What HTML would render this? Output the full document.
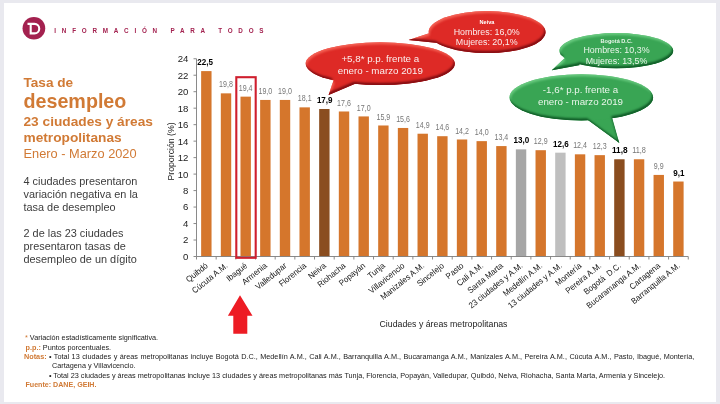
<!DOCTYPE html>
<html lang="es"><head><meta charset="utf-8"><title>Tasa de desempleo</title>
<style>
html,body{margin:0;padding:0;}
body{width:720px;height:404px;overflow:hidden;background:#e9e9ef;font-family:"Liberation Sans",sans-serif;position:relative;}
#slide{position:absolute;left:4px;top:3px;width:712px;height:399px;background:#fff;}
svg{position:absolute;left:0;top:0;}
svg text{font-family:"Liberation Sans",sans-serif;}
.yl{font-size:9.6px;fill:#1c1c1c;}
.vl{font-size:8.3px;fill:#767676;}
.vb{font-size:9px;fill:#000;font-weight:bold;}
.xl{font-size:8.4px;fill:#141414;white-space:pre;}
.at{font-size:9.5px;fill:#1c1c1c;}
.bt{font-size:9.75px;fill:#fbeeee;}
.bs{font-size:8.9px;fill:#fbeeee;}
svg text.g{fill:#e9f6ea;}
.bh{font-size:5.6px;fill:#fff;font-weight:bold;}
.t{position:absolute;white-space:nowrap;}
.or{color:#d17a35;}
.hd{left:54.3px;top:27.1px;font-size:6.3px;font-weight:bold;color:#a3214f;letter-spacing:5.77px;line-height:8px;}
.ti{left:23.5px;font-weight:bold;}
.bd{left:23.5px;font-size:10.9px;color:#3c3c3c;line-height:13px;}
.nt{font-size:7.28px;color:#1a1a1a;line-height:9.2px;}
.ju{width:645.5px;text-align:justify;text-align-last:justify;white-space:normal;}
.nt b{color:#d17a35;}
</style></head><body>
<div id="slide"></div>
<svg width="720" height="404" viewBox="0 0 720 404">
<defs>
<radialGradient id="gr" cx="50%" cy="40%" r="65%"><stop offset="0" stop-color="#e2332b"/><stop offset="0.7" stop-color="#d62a25"/><stop offset="1" stop-color="#b51e1c"/></radialGradient>
<radialGradient id="gg" cx="50%" cy="40%" r="65%"><stop offset="0" stop-color="#3fae5a"/><stop offset="0.7" stop-color="#2f9e4b"/><stop offset="1" stop-color="#1f7f38"/></radialGradient>
<filter id="bvr" x="-5%" y="-8%" width="110%" height="116%" color-interpolation-filters="sRGB"><feGaussianBlur in="SourceAlpha" stdDeviation="1.3" result="b"/><feOffset in="b" dx="-1.2" dy="-1.6" result="o1"/><feComposite in="SourceAlpha" in2="o1" operator="arithmetic" k2="1.25" k3="-1.25" result="ed"/><feFlood flood-color="#8a1014" result="fd"/><feComposite in="fd" in2="ed" operator="in" result="sd"/><feOffset in="b" dx="1.2" dy="1.6" result="o2"/><feComposite in="SourceAlpha" in2="o2" operator="arithmetic" k2="0.9" k3="-0.9" result="el"/><feFlood flood-color="#f7685a" result="fl"/><feComposite in="fl" in2="el" operator="in" result="sl"/><feGaussianBlur in="SourceAlpha" stdDeviation="0.5" result="b2"/><feComposite in="SourceAlpha" in2="b2" operator="arithmetic" k2="1.3" k3="-1.3" result="et"/><feFlood flood-color="#8a1014" result="ft"/><feComposite in="ft" in2="et" operator="in" result="st"/><feMerge><feMergeNode in="SourceGraphic"/><feMergeNode in="sl"/><feMergeNode in="sd"/><feMergeNode in="st"/></feMerge></filter>
<filter id="bvg" x="-5%" y="-8%" width="110%" height="116%" color-interpolation-filters="sRGB"><feGaussianBlur in="SourceAlpha" stdDeviation="1.3" result="b"/><feOffset in="b" dx="-1.2" dy="-1.6" result="o1"/><feComposite in="SourceAlpha" in2="o1" operator="arithmetic" k2="1.25" k3="-1.25" result="ed"/><feFlood flood-color="#14642c" result="fd"/><feComposite in="fd" in2="ed" operator="in" result="sd"/><feOffset in="b" dx="1.2" dy="1.6" result="o2"/><feComposite in="SourceAlpha" in2="o2" operator="arithmetic" k2="0.9" k3="-0.9" result="el"/><feFlood flood-color="#6fcf85" result="fl"/><feComposite in="fl" in2="el" operator="in" result="sl"/><feGaussianBlur in="SourceAlpha" stdDeviation="0.5" result="b2"/><feComposite in="SourceAlpha" in2="b2" operator="arithmetic" k2="1.3" k3="-1.3" result="et"/><feFlood flood-color="#14642c" result="ft"/><feComposite in="ft" in2="et" operator="in" result="st"/><feMerge><feMergeNode in="SourceGraphic"/><feMergeNode in="sl"/><feMergeNode in="sd"/><feMergeNode in="st"/></feMerge></filter>
</defs>
<rect x="201.14" y="71.10" width="10.4" height="185.40" fill="#d5762c"/>
<rect x="220.81" y="93.35" width="10.4" height="163.15" fill="#d5762c"/>
<rect x="240.48" y="96.64" width="10.4" height="159.86" fill="#d5762c"/>
<rect x="260.15" y="99.94" width="10.4" height="156.56" fill="#d5762c"/>
<rect x="279.81" y="99.94" width="10.4" height="156.56" fill="#d5762c"/>
<rect x="299.49" y="107.36" width="10.4" height="149.14" fill="#d5762c"/>
<rect x="319.16" y="109.00" width="10.4" height="147.50" fill="#8a4d1f"/>
<rect x="338.82" y="111.48" width="10.4" height="145.02" fill="#d5762c"/>
<rect x="358.50" y="116.42" width="10.4" height="140.08" fill="#d5762c"/>
<rect x="378.17" y="125.48" width="10.4" height="131.02" fill="#d5762c"/>
<rect x="397.84" y="127.96" width="10.4" height="128.54" fill="#d5762c"/>
<rect x="417.51" y="133.72" width="10.4" height="122.78" fill="#d5762c"/>
<rect x="437.18" y="136.20" width="10.4" height="120.30" fill="#d5762c"/>
<rect x="456.85" y="139.49" width="10.4" height="117.01" fill="#d5762c"/>
<rect x="476.52" y="141.14" width="10.4" height="115.36" fill="#d5762c"/>
<rect x="496.19" y="146.08" width="10.4" height="110.42" fill="#d5762c"/>
<rect x="515.86" y="149.38" width="10.4" height="107.12" fill="#a6a6a6"/>
<rect x="535.52" y="150.20" width="10.4" height="106.30" fill="#d5762c"/>
<rect x="555.19" y="152.68" width="10.4" height="103.82" fill="#bfbfbf"/>
<rect x="574.87" y="154.32" width="10.4" height="102.18" fill="#d5762c"/>
<rect x="594.53" y="155.15" width="10.4" height="101.35" fill="#d5762c"/>
<rect x="614.20" y="159.27" width="10.4" height="97.23" fill="#8a4d1f"/>
<rect x="633.88" y="159.27" width="10.4" height="97.23" fill="#d5762c"/>
<rect x="653.55" y="174.92" width="10.4" height="81.58" fill="#d5762c"/>
<rect x="673.21" y="181.52" width="10.4" height="74.98" fill="#d5762c"/>
<path d="M196.5 58.74V256.5H688.25" fill="none" stroke="#7d7d7d" stroke-width="0.9"/>
<path d="M193.5 256.50H196.5M193.5 240.02H196.5M193.5 223.54H196.5M193.5 207.06H196.5M193.5 190.58H196.5M193.5 174.10H196.5M193.5 157.62H196.5M193.5 141.14H196.5M193.5 124.66H196.5M193.5 108.18H196.5M193.5 91.70H196.5M193.5 75.22H196.5M193.5 58.74H196.5M196.50 256.5v3M216.17 256.5v3M235.84 256.5v3M255.51 256.5v3M275.18 256.5v3M294.85 256.5v3M314.52 256.5v3M334.19 256.5v3M353.86 256.5v3M373.53 256.5v3M393.20 256.5v3M412.87 256.5v3M432.54 256.5v3M452.21 256.5v3M471.88 256.5v3M491.55 256.5v3M511.22 256.5v3M530.89 256.5v3M550.56 256.5v3M570.23 256.5v3M589.90 256.5v3M609.57 256.5v3M629.24 256.5v3M648.91 256.5v3M668.58 256.5v3M688.25 256.5v3" fill="none" stroke="#7d7d7d" stroke-width="0.9"/>
<text x="188.4" y="259.90" text-anchor="end" class="yl">0</text>
<text x="188.4" y="243.42" text-anchor="end" class="yl">2</text>
<text x="188.4" y="226.94" text-anchor="end" class="yl">4</text>
<text x="188.4" y="210.46" text-anchor="end" class="yl">6</text>
<text x="188.4" y="193.98" text-anchor="end" class="yl">8</text>
<text x="188.4" y="177.50" text-anchor="end" class="yl">10</text>
<text x="188.4" y="161.02" text-anchor="end" class="yl">12</text>
<text x="188.4" y="144.54" text-anchor="end" class="yl">14</text>
<text x="188.4" y="128.06" text-anchor="end" class="yl">16</text>
<text x="188.4" y="111.58" text-anchor="end" class="yl">18</text>
<text x="188.4" y="95.10" text-anchor="end" class="yl">20</text>
<text x="188.4" y="78.62" text-anchor="end" class="yl">22</text>
<text x="188.4" y="62.14" text-anchor="end" class="yl">24</text>
<text x="197.29" y="65.20" textLength="15.70" lengthAdjust="spacingAndGlyphs" class="vb">22,5</text>
<text x="219.10" y="87.45" textLength="13.80" lengthAdjust="spacingAndGlyphs" class="vl">19,8</text>
<text x="238.78" y="90.74" textLength="13.80" lengthAdjust="spacingAndGlyphs" class="vl">19,4</text>
<text x="258.45" y="94.04" textLength="13.80" lengthAdjust="spacingAndGlyphs" class="vl">19,0</text>
<text x="278.12" y="94.04" textLength="13.80" lengthAdjust="spacingAndGlyphs" class="vl">19,0</text>
<text x="297.79" y="101.46" textLength="13.80" lengthAdjust="spacingAndGlyphs" class="vl">18,1</text>
<text x="316.90" y="103.10" textLength="15.70" lengthAdjust="spacingAndGlyphs" class="vb">17,9</text>
<text x="337.12" y="105.58" textLength="13.80" lengthAdjust="spacingAndGlyphs" class="vl">17,6</text>
<text x="356.80" y="110.52" textLength="13.80" lengthAdjust="spacingAndGlyphs" class="vl">17,0</text>
<text x="376.47" y="119.58" textLength="13.80" lengthAdjust="spacingAndGlyphs" class="vl">15,9</text>
<text x="396.14" y="122.06" textLength="13.80" lengthAdjust="spacingAndGlyphs" class="vl">15,6</text>
<text x="415.81" y="127.82" textLength="13.80" lengthAdjust="spacingAndGlyphs" class="vl">14,9</text>
<text x="435.48" y="130.30" textLength="13.80" lengthAdjust="spacingAndGlyphs" class="vl">14,6</text>
<text x="455.15" y="133.59" textLength="13.80" lengthAdjust="spacingAndGlyphs" class="vl">14,2</text>
<text x="474.82" y="135.24" textLength="13.80" lengthAdjust="spacingAndGlyphs" class="vl">14,0</text>
<text x="494.49" y="140.18" textLength="13.80" lengthAdjust="spacingAndGlyphs" class="vl">13,4</text>
<text x="513.61" y="143.48" textLength="15.70" lengthAdjust="spacingAndGlyphs" class="vb">13,0</text>
<text x="533.83" y="144.30" textLength="13.80" lengthAdjust="spacingAndGlyphs" class="vl">12,9</text>
<text x="552.94" y="146.78" textLength="15.70" lengthAdjust="spacingAndGlyphs" class="vb">12,6</text>
<text x="573.17" y="148.42" textLength="13.80" lengthAdjust="spacingAndGlyphs" class="vl">12,4</text>
<text x="592.84" y="149.25" textLength="13.80" lengthAdjust="spacingAndGlyphs" class="vl">12,3</text>
<text x="611.95" y="153.37" textLength="15.70" lengthAdjust="spacingAndGlyphs" class="vb">11,8</text>
<text x="632.18" y="153.37" textLength="13.80" lengthAdjust="spacingAndGlyphs" class="vl">11,8</text>
<text x="653.82" y="169.02" textLength="9.85" lengthAdjust="spacingAndGlyphs" class="vl">9,9</text>
<text x="673.21" y="175.62" textLength="11.21" lengthAdjust="spacingAndGlyphs" class="vb">9,1</text>
<text transform="translate(208.53 266.70) rotate(-39) scale(0.94 1)" text-anchor="end" class="xl">Quibdó</text>
<text transform="translate(228.20 266.70) rotate(-39) scale(0.94 1)" text-anchor="end" class="xl">Cúcuta A.M.</text>
<text transform="translate(247.88 266.70) rotate(-39) scale(0.94 1)" text-anchor="end" class="xl">Ibagué</text>
<text transform="translate(267.55 266.70) rotate(-39) scale(0.94 1)" text-anchor="end" class="xl">Armenia</text>
<text transform="translate(287.21 266.70) rotate(-39) scale(0.94 1)" text-anchor="end" class="xl">Valledupar</text>
<text transform="translate(306.88 266.70) rotate(-39) scale(0.94 1)" text-anchor="end" class="xl">Florencia</text>
<text transform="translate(326.56 266.70) rotate(-39) scale(0.94 1)" text-anchor="end" class="xl">Neiva</text>
<text transform="translate(346.22 266.70) rotate(-39) scale(0.94 1)" text-anchor="end" class="xl">Riohacha</text>
<text transform="translate(365.90 266.70) rotate(-39) scale(0.94 1)" text-anchor="end" class="xl">Popayán</text>
<text transform="translate(385.56 266.70) rotate(-39) scale(0.94 1)" text-anchor="end" class="xl">Tunja</text>
<text transform="translate(405.24 266.70) rotate(-39) scale(0.94 1)" text-anchor="end" class="xl">Villavicencio</text>
<text transform="translate(424.91 266.70) rotate(-39) scale(0.94 1)" text-anchor="end" class="xl">Manizales A.M.</text>
<text transform="translate(444.57 266.70) rotate(-39) scale(0.94 1)" text-anchor="end" class="xl">Sincelejo</text>
<text transform="translate(464.25 266.70) rotate(-39) scale(0.94 1)" text-anchor="end" class="xl">Pasto</text>
<text transform="translate(483.92 266.70) rotate(-39) scale(0.94 1)" text-anchor="end" class="xl">Cali A.M.</text>
<text transform="translate(503.59 266.70) rotate(-39) scale(0.94 1)" text-anchor="end" class="xl">Santa Marta</text>
<text transform="translate(523.26 266.70) rotate(-39) scale(0.94 1)" text-anchor="end" class="xl">23 ciudades y A.M.</text>
<text transform="translate(542.93 266.70) rotate(-39) scale(0.94 1)" text-anchor="end" class="xl">Medellín A.M.</text>
<text transform="translate(562.60 266.70) rotate(-39) scale(0.94 1)" text-anchor="end" class="xl">13 ciudades y A.M.</text>
<text transform="translate(582.27 266.70) rotate(-39) scale(0.94 1)" text-anchor="end" class="xl">Montería</text>
<text transform="translate(601.94 266.70) rotate(-39) scale(0.94 1)" text-anchor="end" class="xl">Pereira A.M.</text>
<text transform="translate(621.61 266.70) rotate(-39) scale(0.94 1)" text-anchor="end" class="xl">Bogotá  D.C.</text>
<text transform="translate(641.28 266.70) rotate(-39) scale(0.94 1)" text-anchor="end" class="xl">Bucaramanga A.M.</text>
<text transform="translate(660.95 266.70) rotate(-39) scale(0.94 1)" text-anchor="end" class="xl">Cartagena</text>
<text transform="translate(680.62 266.70) rotate(-39) scale(0.94 1)" text-anchor="end" class="xl">Barranquilla A.M.</text>
<text transform="translate(173.8 180.6) rotate(-90)" textLength="58.3" lengthAdjust="spacingAndGlyphs" class="at">Proporción (%)</text>
<text x="379.5" y="327.2" textLength="128" lengthAdjust="spacingAndGlyphs" class="at">Ciudades y áreas metropolitanas</text>
<rect x="236.3" y="77.2" width="19.4" height="180.6" fill="none" stroke="#cf1f2e" stroke-width="2.1"/>
<path d="M240 295.3L252.5 315.7H247.3V333.8H233.3V315.7H227.9Z" fill="#ed1c24"/>
<g fill="#de2a26" filter="url(#bvr)"><path d="M335 76L328.6 95L364 80Z"/><ellipse cx="380.25" cy="63.7" rx="74.6" ry="21.4"/></g>
<g fill="#de2a26" filter="url(#bvr)"><path d="M436 31L408.6 40L438 43Z"/><ellipse cx="487.1" cy="32.1" rx="58.5" ry="21"/></g>
<g fill="#39a554" filter="url(#bvg)"><path d="M568 55L551.8 70.3L580 65Z"/><ellipse cx="616.3" cy="50.7" rx="56.9" ry="17.6"/></g>
<g fill="#39a554" filter="url(#bvg)"><path d="M581 115L619.3 143L610 110Z"/><ellipse cx="581.3" cy="97.4" rx="71.8" ry="23.1"/></g>
<text x="380.3" y="61.8" text-anchor="middle" class="bt">+5,8* p.p. frente a</text>
<text x="380.3" y="73.8" text-anchor="middle" class="bt">enero - marzo 2019</text>
<text x="487" y="24" text-anchor="middle" class="bh">Neiva</text>
<text x="486.7" y="34.5" text-anchor="middle" class="bs">Hombres: 16,0%</text>
<text x="486.7" y="44.5" text-anchor="middle" class="bs">Mujeres: 20,1%</text>
<text x="616.5" y="42.8" text-anchor="middle" class="bh g">Bogotá D.C.</text>
<text x="616.5" y="52.9" text-anchor="middle" class="bs g">Hombres: 10,3%</text>
<text x="616.5" y="63.5" text-anchor="middle" class="bs g">Mujeres: 13,5%</text>
<text x="580.5" y="93.1" text-anchor="middle" class="bt g">-1,6* p.p. frente a</text>
<text x="580.5" y="104.9" text-anchor="middle" class="bt g">enero - marzo 2019</text>
<circle cx="33.9" cy="28.25" r="11.35" fill="#a3214f"/>
<path d="M27.5 23.9H34.5a4.75 4.75 0 0 1 0 9.5H30.7V24.5" fill="none" stroke="#fff" stroke-width="2.1"/>
</svg>
<div class="t hd">INFORMACIÓN PARA TODOS</div>
<div class="t ti or" id="t1" style="top:74.7px;font-size:13.6px;line-height:16px;">Tasa de</div>
<div class="t ti or" id="t2" style="top:88.7px;font-size:19.7px;line-height:24px;">desempleo</div>
<div class="t ti or" id="t3" style="top:114px;font-size:13.7px;line-height:16px;">23 ciudades y áreas</div>
<div class="t ti or" id="t4" style="top:129.7px;font-size:13.7px;line-height:16px;">metropolitanas</div>
<div class="t or" id="t5" style="left:23.5px;top:146.2px;font-size:12.8px;line-height:16px;">Enero - Marzo 2020</div>
<div class="t bd" style="top:174.9px;">4 ciudades presentaron<br>variación negativa en la<br>tasa de desempleo</div>
<div class="t bd" style="top:227.3px;">2 de las 23 ciudades<br>presentaron tasas de<br>desempleo de un dígito</div>
<div class="t nt" style="left:25px;top:332.8px;"><b style="font-weight:normal">*</b> Variación estadísticamente significativa.</div>
<div class="t nt" style="left:25.5px;top:342.8px;"><b>p.p.:</b> Puntos porcentuales.</div>
<div class="t nt" style="left:24px;top:352.3px;"><b>Notas:</b></div>
<div class="t nt ju" id="n1" style="left:48.9px;top:352.3px;">• Total 13 ciudades y áreas metropolitanas incluye Bogotá D.C., Medellín A.M., Cali A.M., Barranquilla A.M., Bucaramanga A.M., Manizales A.M., Pereira A.M., Cúcuta A.M., Pasto, Ibagué, Montería,</div>
<div class="t nt" style="left:52px;top:361.3px;">Cartagena y Villavicencio.</div>
<div class="t nt" id="n2" style="left:48.9px;top:370.6px;">• Total 23 ciudades y áreas metropolitanas incluye 13 ciudades y áreas metropolitanas más Tunja, Florencia, Popayán, Valledupar, Quibdó, Neiva, Riohacha, Santa Marta, Armenia y Sincelejo.</div>
<div class="t nt" style="left:25.5px;top:380.2px;"><b style="font-size:7.1px">Fuente: DANE, GEIH.</b></div>
</body></html>
